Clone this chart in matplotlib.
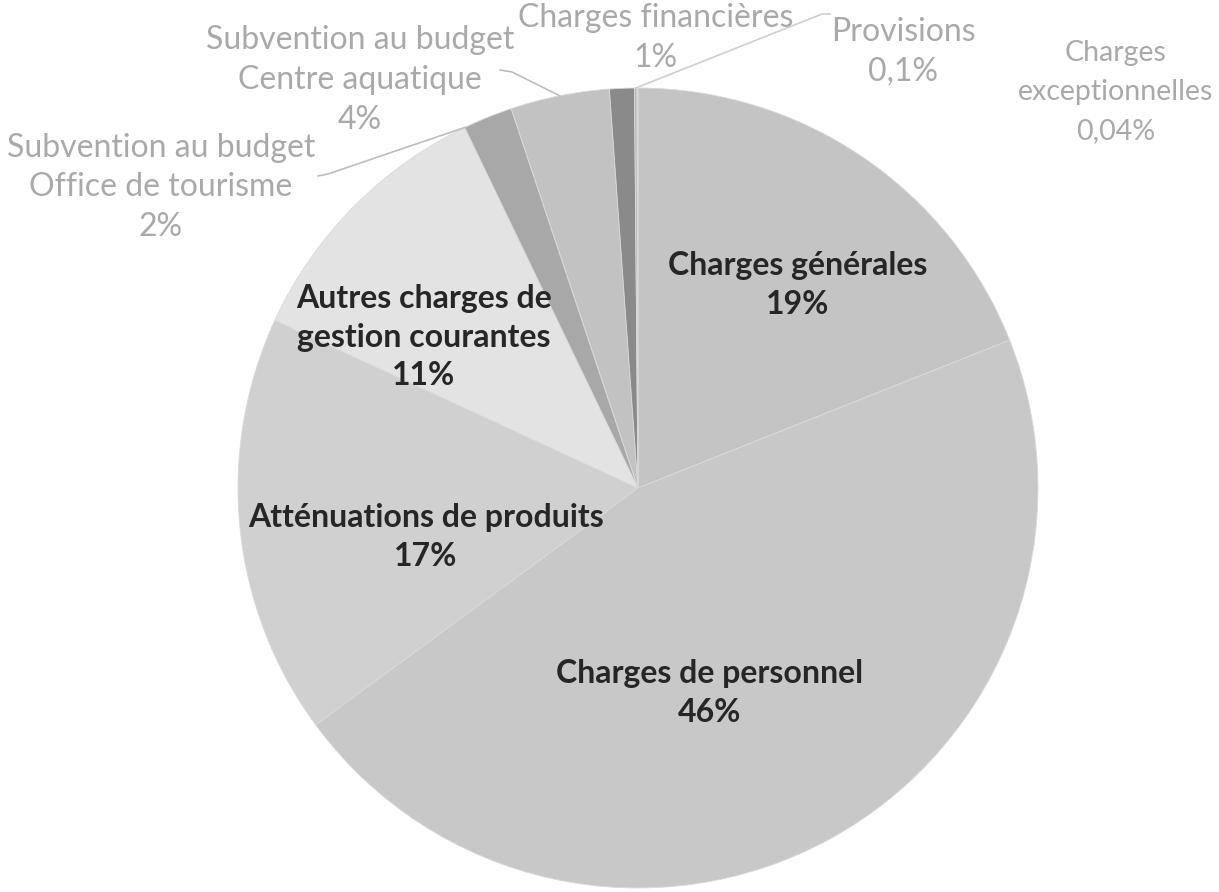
import matplotlib
matplotlib.use("Agg")
from matplotlib import pyplot as plt
import numpy as np

# chart data
categories = ["Charges générales", "Charges de personnel", "Atténuations de produits",
              "Autres charges de\ngestion courantes", "Subvention au budget\nOffice de tourisme",
              "Subvention au budget\nCentre aquatique", "Charges financières", "Provisions",
              "Charges\nexceptionnelles"]
values = [19, 46, 17, 11, 2, 4, 1, 0.1, 0.04]
pct_labels = ["19%", "46%", "17%", "11%", "2%", "4%", "1%", "0,1%", "0,04%"]

colors = ["#c4c4c4", "#c8c8c8", "#d0d0d0", "#e3e3e3", "#a8a8a8",
          "#c2c2c2", "#8a8a8a", "#b4b4b4", "#c8c8c8"]

# label placement (pie radius = 1, centre at 0,0)
label_pos = [(0.40, 0.507), (0.18, -0.512), (-0.53, -0.122), (-0.535, 0.377),
             (-1.193, 0.752), (-0.695, 1.02), (0.043, 1.125), (0.663, 1.09), (1.195, 0.99)]
label_size = [23, 23, 23, 23, 23, 23, 23, 23, 20.5]
line_sp = [1.4, 1.4, 1.4, 1.4, 1.4, 1.4, 1.4, 1.4, 1.6]
inside = [True, True, True, True, False, False, False, False, False]

W, H = 1219, 892
fig = plt.figure(figsize=(W / 100, H / 100), dpi=100)
ax = fig.add_axes([0, 0, 1, 1])
cx, cy, R = 638, 488, 400

wedges, _ = ax.pie(values, colors=colors, startangle=90, counterclock=False, radius=1,
                   wedgeprops=dict(edgecolor="#dadada", linewidth=0.6))
ax.set_xlim(-cx / R, (W - cx) / R)
ax.set_ylim(-(H - cy) / R, cy / R)
ax.axis("off")

font = "Lato"
for i, w in enumerate(wedges):
    x, y = label_pos[i]
    txt = categories[i] + "\n" + pct_labels[i]
    if inside[i]:
        ax.text(x, y, txt, ha="center", va="center", fontsize=label_size[i], fontweight="bold",
                color="#262626", family=font, linespacing=line_sp[i])
    else:
        ax.text(x, y, txt, ha="center", va="center", fontsize=label_size[i],
                color="#a9a9a9", family=font, linespacing=line_sp[i])

# leader lines, from label edge to the wedge rim
def rim(w, frac):
    a = np.deg2rad(w.theta1 + (w.theta2 - w.theta1) * frac)
    return np.cos(a), np.sin(a)

# Office de tourisme
x0, y0 = (318 - cx) / R, (cy - 176) / R
ex, ey = rim(wedges[4], 1.0)
ax.plot([x0, x0 + 0.025, ex], [y0, y0 + 0.005, ey], color="#bdbdbd", lw=1.2)
# Centre aquatique
x0, y0 = (500 - cx) / R, (cy - 70) / R
ex, ey = rim(wedges[5], 0.5)
ax.plot([x0, x0 + 0.03, ex], [y0, y0 - 0.005, ey], color="#bdbdbd", lw=1.2)
# Provisions
x0, y0 = (830 - cx) / R, (cy - 14) / R
ex, ey = rim(wedges[7], 0.5)
ax.plot([x0, x0 - 0.02, ex], [y0, y0, ey], color="#cfcfcf", lw=1.2)

fig.savefig("out.png", dpi=100, facecolor="white")
